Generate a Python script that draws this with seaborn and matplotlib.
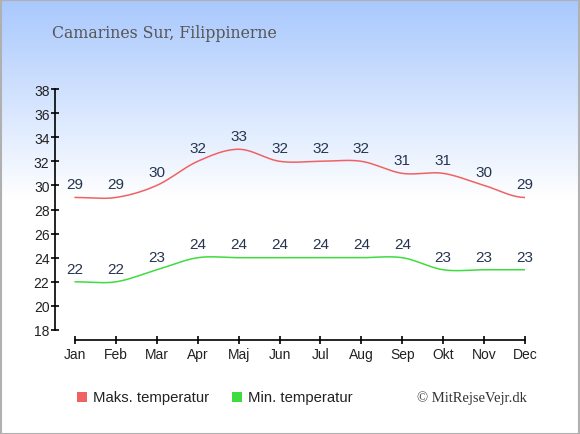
import numpy as np
import pandas as pd
import matplotlib
matplotlib.use("Agg")
import matplotlib.pyplot as plt
import seaborn as sns
from matplotlib.patches import Rectangle

months = ["Jan", "Feb", "Mar", "Apr", "Maj", "Jun", "Jul", "Aug", "Sep", "Okt", "Nov", "Dec"]
max_temp = [29, 29, 30, 32, 33, 32, 32, 32, 31, 31, 30, 29]
min_temp = [22, 22, 23, 24, 24, 24, 24, 24, 24, 23, 23, 23]
y_ticks = [18, 20, 22, 24, 26, 28, 30, 32, 34, 36, 38]
title = "Camarines Sur, Filippinerne"
legend_labels = ["Maks. temperatur", "Min. temperatur"]
credit = "© MitRejseVejr.dk"

RED = "#f06262"
GREEN = "#3fdc3f"
LABEL_COLOR = "#26354f"


def smooth(values, n=30):
    """Cubic Hermite (Catmull-Rom) rendering path through the data points."""
    y = np.asarray(values, dtype=float)
    k = len(y)
    m = np.zeros(k)
    m[1:-1] = (y[2:] - y[:-2]) / 2.0
    xs, ys = [], []
    for i in range(k - 1):
        t = np.linspace(0, 1, n, endpoint=(i == k - 2))
        h00 = 2 * t**3 - 3 * t**2 + 1
        h10 = t**3 - 2 * t**2 + t
        h01 = -2 * t**3 + 3 * t**2
        h11 = t**3 - t**2
        xs.append(i + t)
        ys.append(h00 * y[i] + h10 * m[i] + h01 * y[i + 1] + h11 * m[i + 1])
    return np.concatenate(xs), np.concatenate(ys)


sns.set_theme(style="white")
plt.rcParams["font.family"] = ["Liberation Sans", "DejaVu Sans"]

W, H = 580, 435
fig = plt.figure(figsize=(W / 100, H / 100), dpi=100)

# background gradient
bg = fig.add_axes([0, 0, 1, 1], zorder=-10)
bg.set_axis_off()
rows = np.linspace(0, 1, H)
top = np.array([168, 200, 253]) / 255.0
white = np.array([1.0, 1.0, 1.0])
frac = np.clip(rows / (200 / H), 0, 1)[:, None]
grad = top * (1 - frac) + white * frac
img = np.repeat(grad[:, None, :], W, axis=1)
bg.imshow(img, aspect="auto", extent=[0, 1, 0, 1], origin="upper")
bg.set_xlim(0, 1)
bg.set_ylim(0, 1)
bg.add_patch(Rectangle((0.001, 0.001), 0.997, 0.996, fill=False, edgecolor="#b0b0b0",
                       linewidth=1.5, transform=bg.transAxes))

ax_left, ax_right = 55, 525
ax_top, ax_bottom = 90, 341
ax = fig.add_axes([ax_left / W, (H - ax_bottom) / H, (ax_right - ax_left) / W,
                   (ax_bottom - ax_top) / H])
ax.patch.set_alpha(0)

x_idx = np.arange(len(months))
for vals, col in [(max_temp, RED), (min_temp, GREEN)]:
    sx, sy = smooth(vals)
    df = pd.DataFrame({"x": sx, "y": sy})
    sns.lineplot(data=df, x="x", y="y", ax=ax, color=col, linewidth=1.1, sort=False)
    for xi, v in zip(x_idx, vals):
        ax.annotate(str(v), (xi, v), xytext=(0, 4.5), textcoords="offset points",
                    ha="center", va="bottom", fontsize=11, color=LABEL_COLOR)

px_per_unit = (331 - 90) / 20.0
ymin = 18 - (ax_bottom - 331) / px_per_unit
ax.set_ylim(ymin, 38)
px_per_month = 450 / 11.0
ax.set_xlim(-(75 - ax_left) / px_per_month, 11)

ax.set_xticks(x_idx)
ax.set_xticklabels(months)
ax.set_yticks(y_ticks)
ax.set_yticklabels([str(v) for v in y_ticks])
ax.set_xlabel("")
ax.set_ylabel("")

for s in ["top", "right"]:
    ax.spines[s].set_visible(False)
ax.spines["left"].set_bounds(18, 38)
ax.spines["bottom"].set_bounds(0, 11)
for s in ["left", "bottom"]:
    ax.spines[s].set_color("black")
    ax.spines[s].set_linewidth(1.2)
ax.tick_params(axis="both", which="major", bottom=True, left=True, direction="inout",
               length=6, width=1.2, colors="black", labelsize=10, labelcolor="#222222")
ax.tick_params(axis="y", pad=1)
ax.tick_params(axis="x", pad=2)
ax.grid(False)

# title
fig.text(52 / W, 1 - 33 / H, title, family=["DejaVu Serif"], fontsize=11.3,
         color="#555555", va="center", ha="left")

# legend
for lx, col, lab in [(77, RED, legend_labels[0]), (232, GREEN, legend_labels[1])]:
    fig.patches.append(Rectangle((lx / W, 1 - 403 / H), 10 / W, 10 / H, facecolor=col,
                                 edgecolor="none", transform=fig.transFigure))
    fig.text((lx + 16) / W, 1 - 398 / H, lab, fontsize=10.7, color="#222222",
             va="center", ha="left")

fig.text(527 / W, 1 - 398 / H, credit, family=["Liberation Serif", "DejaVu Serif"],
         fontsize=10.5, color="#333333", va="center", ha="right")

fig.savefig("out.png", dpi=100)
